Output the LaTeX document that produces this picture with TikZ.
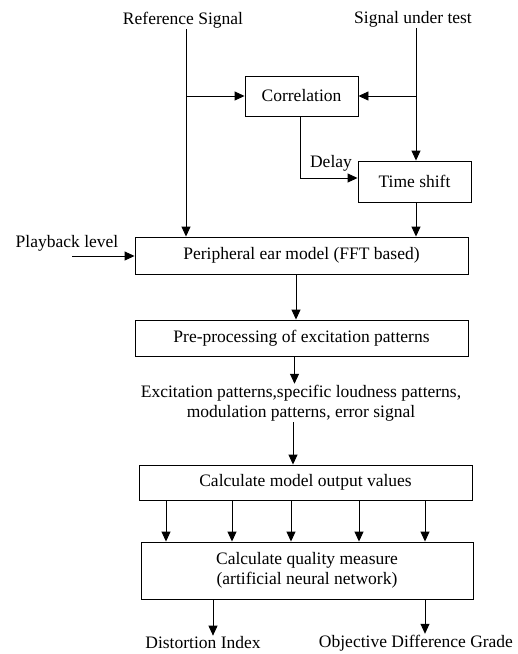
\documentclass[tikz,border=0pt]{standalone}
\usepackage{fontspec}
\setmainfont{Liberation Serif}
\usetikzlibrary{arrows.meta}
\begin{document}
\begin{tikzpicture}[x=1pt,y=-1pt,
  font=\fontsize{17.5}{20}\selectfont,
  box/.style={draw, line width=0.9pt, inner sep=0pt},
  lbl/.style={inner sep=1pt},
  arr/.style={-{Triangle[length=10pt,width=9pt]}, line width=0.9pt}]
\useasboundingbox[fill=white] (0,0) rectangle (518,654);
% texts
\node[lbl] (ref) at (183,20) {Reference Signal};
\node[lbl] (sut) at (413,19) {Signal under test};
\node[lbl] (pb) at (67,243) {Playback level};
\node[lbl] (dly) at (331,163) {Delay};
\node[lbl, align=center] (exc) at (301,403) {Excitation patterns,specific loudness patterns,\\modulation patterns, error signal};
\node[lbl] (di) at (203,643) {Distortion Index};
\node[lbl] (odg) at (416,643) {Objective Difference Grade};
% boxes
\node[box, minimum width=113pt, minimum height=40pt] (corr) at (301.5,96) {Correlation};
\node[box, minimum width=113pt, minimum height=41pt] (ts) at (414.5,181.5) {Time shift};
\node[box, minimum width=333pt, minimum height=37pt] (per) at (301.5,255.5) {Peripheral ear model (FFT based)};
\node[box, minimum width=333pt, minimum height=36pt] (pre) at (301.5,338) {Pre-processing of excitation patterns};
\node[box, minimum width=333pt, minimum height=35pt] (calc) at (305.5,482.5) {Calculate model output values};
\node[box, minimum width=332pt, minimum height=57pt, align=center] (qual) at (307,570.5) {Calculate quality measure\\(artificial neural network)};
% helper coordinates
\coordinate (rx) at (186,0);
\coordinate (sx) at (416,0);
\coordinate (pbs) at (72,256);
\coordinate (dy) at (0,178);
\coordinate (dx) at (300,0);
\coordinate (c1) at (296,0);
\coordinate (c2) at (294.5,0);
\coordinate (c3) at (293,0);
\coordinate (a1) at (166,0);
\coordinate (a2) at (232,0);
\coordinate (a3) at (291,0);
\coordinate (a4) at (359,0);
\coordinate (a5) at (425,0);
\coordinate (o1) at (213,0);
% connectors
\draw[arr] (ref.south -| rx) -- (per.north -| rx);
\draw[arr] (corr.west -| rx) -- (corr.west);
\draw[arr] (sut.south -| sx) -- (ts.north -| sx);
\draw[arr] (corr.east -| sx) -- (corr.east);
\draw[arr] (corr.south -| dx) -- (dy -| dx) -- (ts.west |- dy);
\draw[arr] (ts.south -| sx) -- (per.north -| sx);
\draw[arr] (pbs) -- (per.west |- pbs);
\draw[arr] (per.south -| c1) -- (pre.north -| c1);
\draw[arr] (pre.south -| c2) -- (exc.north -| c2);
\draw[arr] (exc.south -| c3) -- (calc.north -| c3);
\foreach \a in {a1,a2,a3,a4,a5}
  \draw[arr] (calc.south -| \a) -- (qual.north -| \a);
\draw[arr] (qual.south -| o1) -- (di.north -| o1);
\draw[arr] (qual.south -| a5) -- (odg.north -| a5);
\end{tikzpicture}
\end{document}
